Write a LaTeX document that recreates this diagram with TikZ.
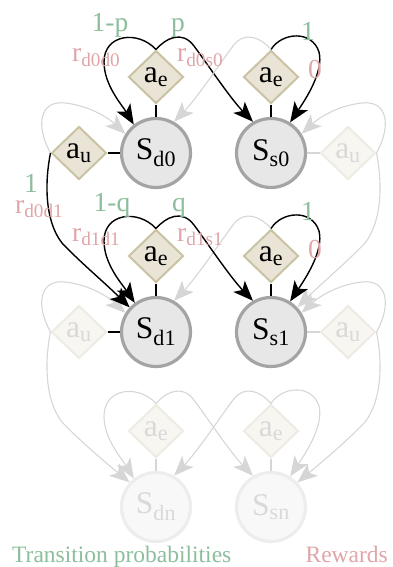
\documentclass[tikz,border=0pt]{standalone}
\usepackage{fontspec}
\setmainfont{Liberation Serif}
\usetikzlibrary{shapes.geometric,arrows.meta}
\definecolor{prob}{HTML}{8DBE9C}
\definecolor{rew}{HTML}{DFA5A8}
\definecolor{stfill}{HTML}{E7E7E7}
\definecolor{stline}{HTML}{A4A4A4}
\definecolor{acfill}{HTML}{EAE4D7}
\definecolor{acline}{HTML}{C9C3A4}
\definecolor{fdfill}{HTML}{F8F8F8}
\definecolor{fdline}{HTML}{EDEDED}
\definecolor{fafill}{HTML}{F8F6F1}
\definecolor{faline}{HTML}{EEEBE3}
\definecolor{fdtext}{HTML}{D9D9D9}
\definecolor{fdedge}{HTML}{D6D6D6}
\begin{document}
\begin{tikzpicture}[x=1pt,y=-1pt,
  nodefont/.style={font=\fontsize{31.5}{36}\selectfont},
  state/.style={circle,minimum size=69pt,inner sep=0pt,line width=3.2pt,draw=stline,fill=stfill,nodefont},
  fstate/.style={state,draw=fdline,fill=fdfill,text=fdtext},
  act/.style={diamond,minimum width=55pt,minimum height=53pt,inner sep=0pt,line width=2pt,draw=acline,fill=acfill,nodefont},
  fact/.style={act,draw=faline,fill=fafill,text=fdtext},
  conn/.style={line width=1.1pt,black},
  fconn/.style={line width=1.1pt,fdedge},
  blk/.style={line width=1.4pt,black,-{Stealth[length=20pt,width=16pt,inset=5pt]}},
  gry/.style={line width=1.1pt,fdedge,-{Stealth[length=20pt,width=16pt,inset=5pt]}},
  lab/.style={font=\fontsize{27.5}{32}\selectfont,inner sep=0pt,anchor=base},
  labw/.style={lab,anchor=base west},
  bot/.style={font=\fontsize{23.5}{28}\selectfont,inner sep=0pt,anchor=base west}]
\useasboundingbox (0,0) rectangle (393,567);

% ---- nodes ----
\node[act] (ae0) at (156,77) {a\textsubscript{e}};
\node[act] (ae1) at (271,77) {a\textsubscript{e}};
\node[state] (Sd0) at (156,153) {S\textsubscript{d0}};
\node[state] (Ss0) at (271,153) {S\textsubscript{s0}};
\node[act] (au0) at (79,153) {a\textsubscript{u}};
\node[fact] (au1) at (348,153) {a\textsubscript{u}};

\node[act] (ae2) at (156,256) {a\textsubscript{e}};
\node[act] (ae3) at (271,256) {a\textsubscript{e}};
\node[state] (Sd1) at (156,332) {S\textsubscript{d1}};
\node[state] (Ss1) at (271,332) {S\textsubscript{s1}};
\node[fact] (au2) at (79,332) {a\textsubscript{u}};
\node[fact] (au3) at (348,332) {a\textsubscript{u}};

\node[fact] (ae4) at (156,431) {a\textsubscript{e}};
\node[fact] (ae5) at (271,431) {a\textsubscript{e}};
\node[fstate] (Sdn) at (156,507) {S\textsubscript{dn}};
\node[fstate] (Ssn) at (271,507) {S\textsubscript{sn}};

% ---- short connectors ----
\draw[conn] (ae0) -- (Sd0);
\draw[conn] (ae1) -- (Ss0);
\draw[conn] (au0) -- (Sd0);
\draw[conn] (ae2) -- (Sd1);
\draw[conn] (ae3) -- (Ss1);
\draw[conn] (au2) -- (Sd1);
\draw[fconn] (au1) -- (Ss0);
\draw[fconn] (au3) -- (Ss1);
\draw[fconn] (ae4) -- (Sdn);
\draw[fconn] (ae5) -- (Ssn);

% ---- faded a_u edges ----
\draw[gry] (au0.west) .. controls (35,125) and (40,100) .. (65,103) .. controls (85,105) and (105,115) .. (Sd0.148);
\draw[gry] (au1.east) .. controls (392,125) and (387,100) .. (362,103) .. controls (342,105) and (322,115) .. (Ss0.32);
\draw[gry] (au1.east) .. controls (382,180) and (383,220) .. (365,243) .. controls (347,262) and (322,283) .. (Ss1.43);
\begin{scope}[shift={(0,179)}]
\draw[gry] (au2.west) .. controls (35,125) and (40,100) .. (65,103) .. controls (85,105) and (105,115) .. (Sd1.148);
\draw[gry] (au3.east) .. controls (392,125) and (387,100) .. (362,103) .. controls (342,105) and (322,115) .. (Ss1.32);
\draw[gry] (au2.west) .. controls (45,180) and (44,220) .. (62,243) .. controls (80,262) and (105,283) .. (Sdn.137);
\draw[gry] (au3.east) .. controls (382,180) and (383,220) .. (365,243) .. controls (347,262) and (322,283) .. (Ssn.43);
\end{scope}

% ---- top row a_e edges ----
\draw[blk] (ae0.north) .. controls (138,30) and (104,34) .. (104,62) .. controls (104,85) and (122,105) .. (Sd0.128);
\draw[blk] (ae0.north) .. controls (166,38) and (182,30) .. (194,46) .. controls (206,62) and (230,98) .. (Ss0.120);
\draw[blk] (ae1.north) .. controls (282,32) and (312,30) .. (319,52) .. controls (324,72) and (305,100) .. (Ss0.58);
\draw[gry] (ae1.north) .. controls (261,38) and (245,30) .. (233,46) .. controls (221,62) and (197,98) .. (Sd0.60);
\draw[blk] (au0.west) .. controls (45,180) and (44,220) .. (62,243) .. controls (80,262) and (105,283) .. (Sd1.137);

% ---- middle row a_e edges ----
\begin{scope}[shift={(0,179)}]
\draw[gry] (ae3.north) .. controls (261,38) and (245,30) .. (233,46) .. controls (221,62) and (197,98) .. (Sd1.60);
\draw[blk] (ae2.north) .. controls (138,30) and (104,34) .. (104,62) .. controls (104,85) and (122,105) .. (Sd1.126);
\draw[blk] (ae2.north) .. controls (166,38) and (182,30) .. (194,46) .. controls (206,62) and (230,98) .. (Ss1.120);
\draw[blk] (ae3.north) .. controls (282,32) and (312,30) .. (319,52) .. controls (324,72) and (305,100) .. (Ss1.58);
\end{scope}

% ---- bottom row a_e edges ----
\begin{scope}[shift={(0,354)}]
\draw[gry] (ae4.north) .. controls (138,30) and (104,34) .. (104,62) .. controls (104,85) and (122,105) .. (Sdn.128);
\draw[gry] (ae4.north) .. controls (166,38) and (182,30) .. (194,46) .. controls (206,62) and (230,98) .. (Ssn.120);
\draw[gry] (ae5.north) .. controls (282,32) and (312,30) .. (319,52) .. controls (324,72) and (305,100) .. (Ssn.58);
\draw[gry] (ae5.north) .. controls (261,38) and (245,30) .. (233,46) .. controls (221,62) and (197,98) .. (Sdn.60);
\end{scope}

% ---- labels ----
\node[lab,text=prob] (l1) at (110,32) {1-p};
\node[lab,text=prob] (l2) at (178,32) {p};
\node[labw,text=rew] (l3) at (72,62) {r\textsubscript{d0d0}};
\node[labw,text=rew] (l4) at (177,62) {r\textsubscript{d0s0}};
\node[lab,text=prob] (l5) at (308,41) {1};
\node[lab,text=rew] (l6) at (315,79) {0};
\node[lab,text=prob] (l7) at (31,192) {1};
\node[labw,text=rew] (l8) at (15,213) {r\textsubscript{d0d1}};
\node[lab,text=prob] (l9) at (112,211) {1-q};
\node[lab,text=prob] (l10) at (179,211) {q};
\node[labw,text=rew] (l11) at (72,241) {r\textsubscript{d1d1}};
\node[labw,text=rew] (l12) at (177,241) {r\textsubscript{d1s1}};
\node[lab,text=prob] (l13) at (308,220) {1};
\node[lab,text=rew] (l14) at (315,258) {0};

\node[bot,text=prob] (tp) at (12,562) {Transition probabilities};
\node[bot,text=rew,anchor=base east] (rw) at (388,562) {Rewards};
\end{tikzpicture}
\end{document}
